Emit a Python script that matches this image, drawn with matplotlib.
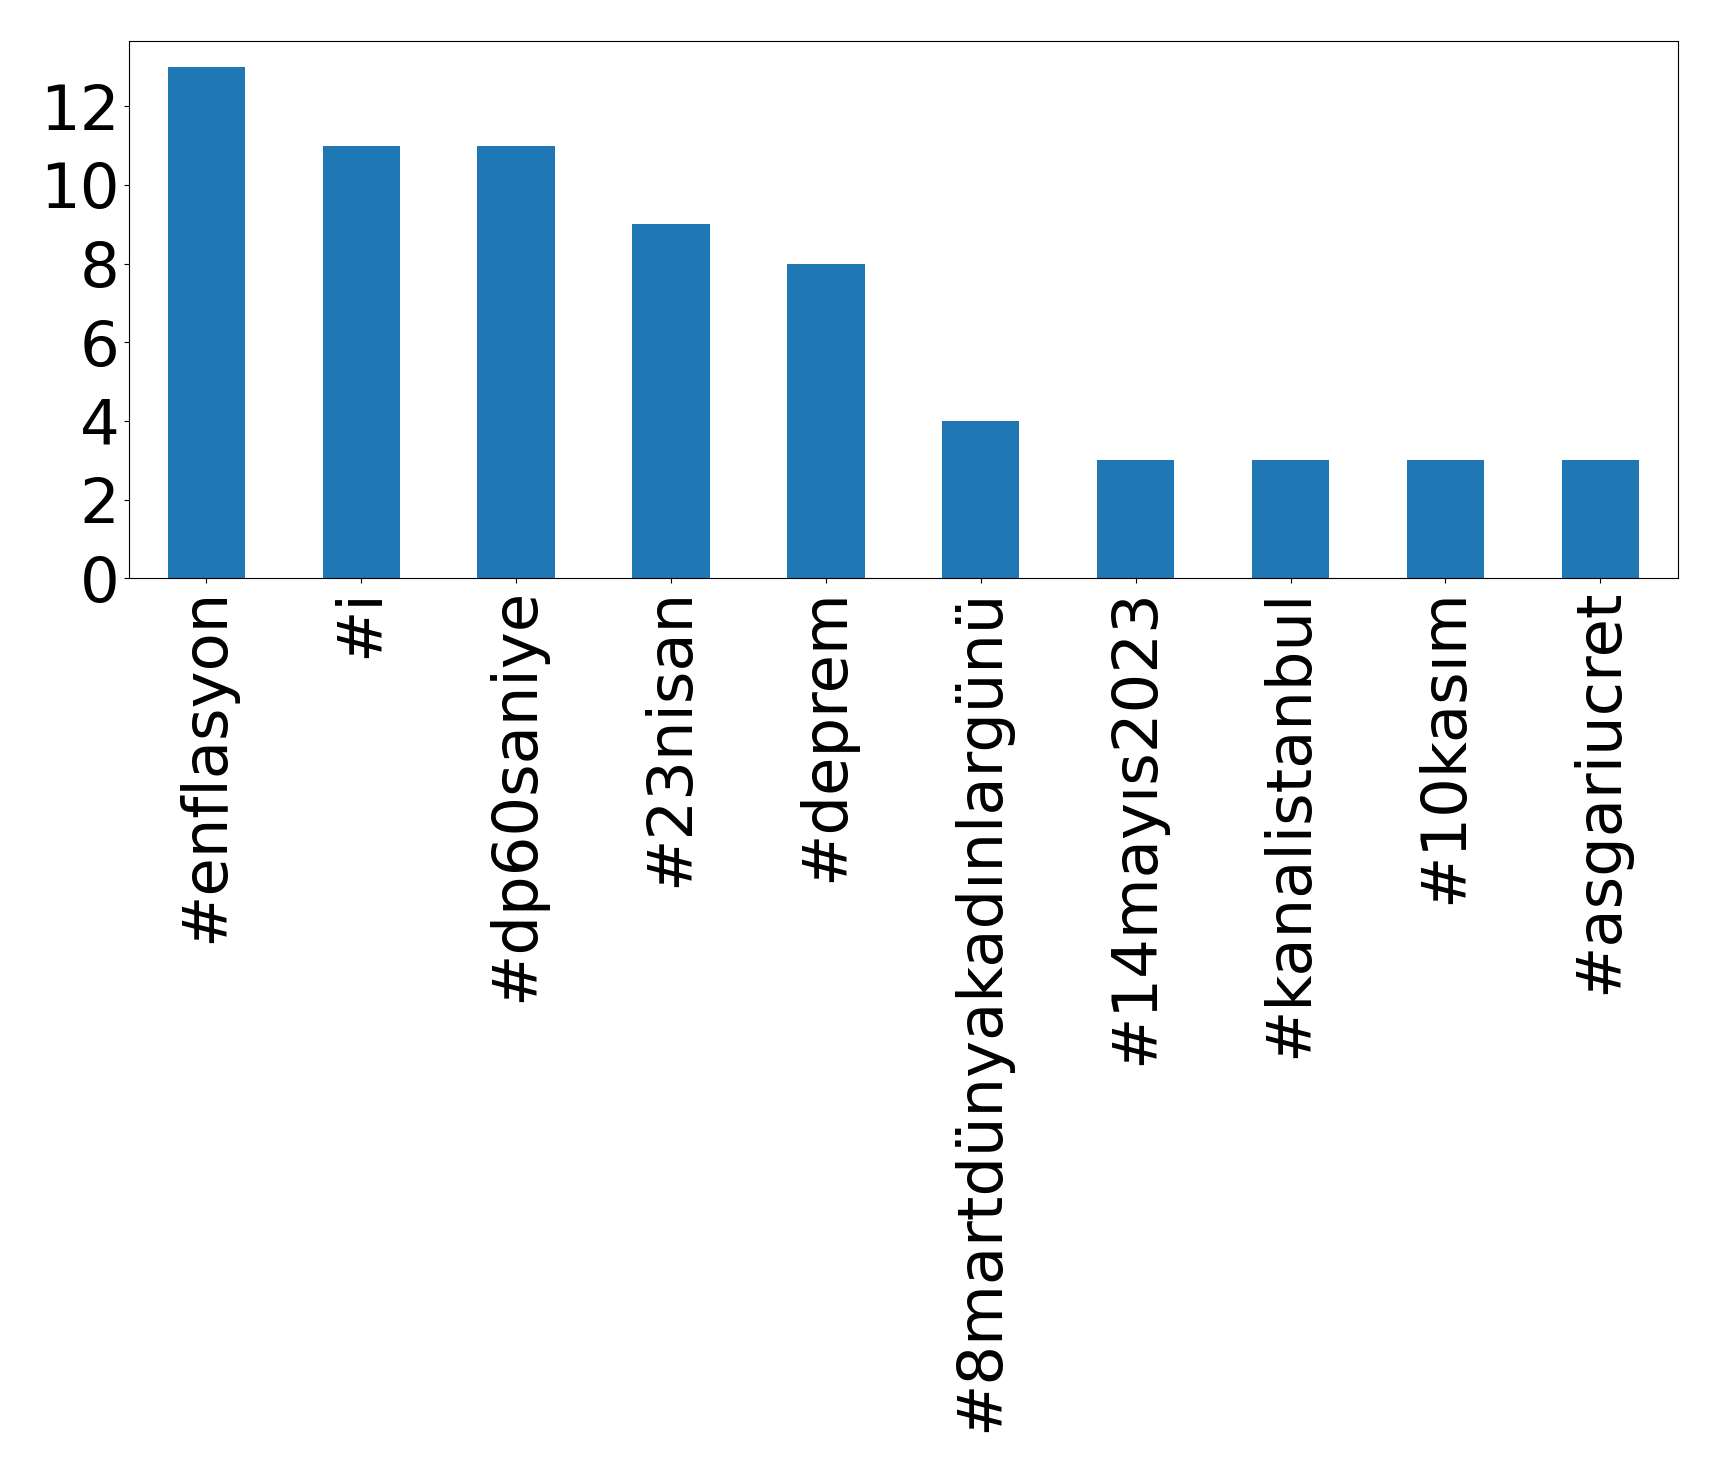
import matplotlib
matplotlib.use('Agg')
import matplotlib.pyplot as plt
import pandas as pd

hashtags = ['#enflasyon', '#i', '#dp60saniye', '#23nisan', '#deprem',
            '#8martdünyakadınlargünü', '#14mayıs2023', '#kanalistanbul',
            '#10kasım', '#asgariucret']
counts = [13, 11, 11, 9, 8, 4, 3, 3, 3, 3]
yticks = [0, 2, 4, 6, 8, 10, 12]

s = pd.Series(counts, index=hashtags)

fig = plt.figure(figsize=(17.19, 14.72), dpi=100)
ax = fig.add_axes([0.075, 0.607, 0.901, 0.365])
s.plot(kind='bar', ax=ax, color='#1f77b4', width=0.5)

ax.set_yticks(yticks)
ax.tick_params(axis='both', labelsize=45)
plt.xticks(rotation=90)

fig.savefig('out.png', dpi=100)
